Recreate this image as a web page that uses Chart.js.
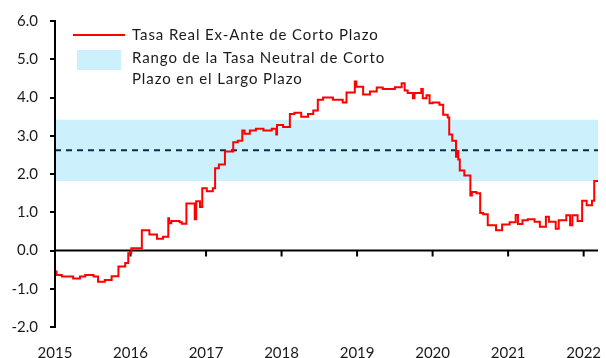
<!DOCTYPE html>
<html lang="es">
<head>
<meta charset="utf-8">
<script src="https://cdn.jsdelivr.net/npm/chart.js@4"></script>
<style>
  html, body { margin: 0; padding: 0; background: #fff; }
  #wrap { width: 606px; height: 358px; }
</style>
</head>
<body>
<div id="wrap"><canvas id="tasaChart" width="606" height="358"></canvas></div>
<script>
// Fechas (año decimal) en que cambia la tasa real ex-ante
const fechas = [
  2015.00, 2015.02, 2015.09, 2015.24, 2015.33, 2015.40, 2015.51, 2015.57, 2015.66, 2015.75,
  2015.84, 2015.93, 2015.97, 2016.01, 2016.15, 2016.25, 2016.35, 2016.43, 2016.50, 2016.51,
  2016.54, 2016.65, 2016.68, 2016.74, 2016.85, 2016.87, 2016.92, 2016.95, 2017.01, 2017.09,
  2017.12, 2017.17, 2017.25, 2017.36, 2017.42, 2017.48, 2017.51, 2017.58, 2017.66, 2017.76,
  2017.87, 2017.93, 2017.94, 2018.02, 2018.11, 2018.17, 2018.26, 2018.35, 2018.42, 2018.48,
  2018.55, 2018.68, 2018.81, 2018.86, 2018.97, 2018.99, 2019.08, 2019.17, 2019.26, 2019.34,
  2019.50, 2019.59, 2019.63, 2019.67, 2019.74, 2019.76, 2019.85, 2019.87, 2019.92, 2019.96,
  2020.00, 2020.09, 2020.14, 2020.20, 2020.22, 2020.26, 2020.31, 2020.33, 2020.34, 2020.36,
  2020.42, 2020.50, 2020.52, 2020.58, 2020.63, 2020.67, 2020.73, 2020.84, 2020.92, 2021.02,
  2021.10, 2021.13, 2021.19, 2021.26, 2021.35, 2021.42, 2021.50, 2021.54, 2021.63, 2021.67,
  2021.77, 2021.82, 2021.85, 2021.92, 2021.98, 2022.04, 2022.11, 2022.14, 2022.19
];

// Tasa real ex-ante de corto plazo (%)
const tasaReal = [
  -0.55, -0.64, -0.68, -0.73, -0.68, -0.64, -0.68, -0.82, -0.77, -0.67,
  -0.42, -0.33, -0.07, 0.06, 0.53, 0.42, 0.31, 0.36, 0.84, 0.71,
  0.77, 0.74, 0.70, 1.23, 0.82, 1.29, 1.14, 1.63, 1.55, 1.63,
  2.15, 2.25, 2.59, 2.83, 2.87, 3.14, 3.05, 3.14, 3.18, 3.14,
  3.18, 3.03, 3.28, 3.23, 3.57, 3.60, 3.50, 3.57, 3.66, 3.94,
  4.00, 3.94, 3.87, 4.13, 4.42, 4.28, 4.08, 4.16, 4.26, 4.22,
  4.27, 4.37, 4.18, 4.12, 3.98, 4.12, 4.22, 3.98, 4.06, 3.85,
  3.87, 3.81, 3.55, 3.48, 3.03, 2.87, 2.45, 2.60, 2.38, 2.09,
  1.96, 1.44, 1.53, 1.50, 0.98, 0.95, 0.66, 0.53, 0.68, 0.74,
  0.93, 0.69, 0.79, 0.82, 0.75, 0.62, 0.88, 0.75, 0.57, 0.79,
  0.92, 0.66, 0.92, 0.77, 1.30, 1.18, 1.30, 1.82, 1.82
];

// Rango de la tasa neutral (mínimo, máximo) y su punto medio
const rangoNeutral = [1.82, 3.42];
const tasaNeutral = [2.62];

const anios = [2015, 2016, 2017, 2018, 2019, 2020, 2021, 2022];
const yTicks = [-2, -1, 0, 1, 2, 3, 4, 5, 6];

const xMin = fechas[0];
const xMax = fechas[fechas.length - 1];

const etiquetas = [
  "Tasa Real Ex-Ante de Corto Plazo",
  "Rango de la Tasa Neutral de Corto",
  "Plazo en el Largo Plazo"
];

Chart.defaults.font.family = "Lato, 'DejaVu Sans', sans-serif";
Chart.defaults.font.size = 15;
Chart.defaults.color = "#1a1a1a";

// Línea del cero con marcas de cada año
const lineaCero = {
  id: "lineaCero",
  beforeDatasetsDraw(chart) {
    const { ctx, chartArea, scales } = chart;
    const y0 = scales.y.getPixelForValue(0);
    ctx.save();
    ctx.strokeStyle = "#000";
    ctx.lineWidth = 2;
    ctx.beginPath();
    ctx.moveTo(chartArea.left, y0);
    ctx.lineTo(chartArea.right, y0);
    scales.x.ticks.forEach((t) => {
      const px = scales.x.getPixelForValue(t.value);
      ctx.moveTo(px, y0);
      ctx.lineTo(px, y0 + 6);
    });
    ctx.stroke();
    ctx.restore();
  }
};

// Eje vertical y leyenda, dibujados encima de la banda
const leyenda = {
  id: "leyenda",
  afterDraw(chart) {
    const { ctx, scales } = chart;
    const ds = chart.data.datasets;
    const xEje = scales.x.getPixelForValue(xMin);
    ctx.save();
    ctx.strokeStyle = "#000";
    ctx.lineWidth = 2;
    ctx.beginPath();
    ctx.moveTo(xEje, scales.y.getPixelForValue(yTicks[yTicks.length - 1]));
    ctx.lineTo(xEje, scales.y.getPixelForValue(yTicks[0]));
    ctx.stroke();

    ctx.strokeStyle = ds[0].borderColor;
    ctx.beginPath();
    ctx.moveTo(73, 35);
    ctx.lineTo(125, 35);
    ctx.stroke();
    ctx.fillStyle = ds[2].backgroundColor;
    ctx.fillRect(77, 50, 44, 20);
    ctx.fillStyle = "#1a1a1a";
    ctx.font = "15px " + Chart.defaults.font.family;
    ctx.letterSpacing = "0.9px";
    ctx.textBaseline = "middle";
    ctx.fillText(etiquetas[0], 132, 35);
    ctx.fillText(etiquetas[1], 132, 58);
    ctx.fillText(etiquetas[2], 132, 79);
    ctx.restore();
  }
};

new Chart(document.getElementById("tasaChart"), {
  type: "line",
  data: {
    datasets: [
      {
        label: etiquetas[0],
        data: fechas.map((x, i) => ({ x: x, y: tasaReal[i] })),
        borderColor: "#ff0000",
        borderWidth: 2,
        stepped: true,
        pointRadius: 0,
        fill: false
      },
      {
        label: "Tasa neutral",
        data: [{ x: xMin, y: tasaNeutral[0] }, { x: xMax, y: tasaNeutral[0] }],
        borderColor: "#102a4c",
        borderWidth: 2,
        borderDash: [6, 5],
        pointRadius: 0,
        fill: false
      },
      {
        label: "Rango máximo",
        data: [{ x: xMin, y: rangoNeutral[1] }, { x: xMax, y: rangoNeutral[1] }],
        borderWidth: 0,
        borderColor: "rgba(0,0,0,0)",
        backgroundColor: "#ccf0fc",
        pointRadius: 0,
        fill: "+1"
      },
      {
        label: "Rango mínimo",
        data: [{ x: xMin, y: rangoNeutral[0] }, { x: xMax, y: rangoNeutral[0] }],
        borderWidth: 0,
        borderColor: "rgba(0,0,0,0)",
        pointRadius: 0,
        fill: false
      }
    ]
  },
  options: {
    responsive: false,
    animation: false,
    layout: { padding: { top: 20, right: 8, left: 0, bottom: 0 } },
    plugins: {
      legend: { display: false },
      tooltip: { enabled: false }
    },
    scales: {
      x: {
        type: "linear",
        min: xMin,
        max: xMax,
        border: { display: false },
        grid: { display: false, drawTicks: false },
        afterBuildTicks: (scale) => {
          scale.ticks = anios.map((v) => ({ value: v }));
        },
        afterFit: (scale) => {
          scale.height = 31;
          scale.paddingLeft = 0;
          scale.paddingRight = 0;
        },
        ticks: {
          autoSkip: false,
          maxRotation: 0,
          padding: 17,
          callback: (v) => String(v)
        }
      },
      y: {
        min: yTicks[0],
        max: yTicks[yTicks.length - 1],
        border: { display: true, color: "#000", width: 2 },
        grid: {
          drawOnChartArea: false,
          drawTicks: true,
          tickLength: 5,
          color: "#000",
          lineWidth: 2
        },
        afterBuildTicks: (scale) => {
          scale.ticks = yTicks.map((v) => ({ value: v }));
        },
        afterFit: (scale) => {
          scale.width = 55;
        },
        ticks: {
          padding: 12,
          callback: (v) => v.toFixed(1)
        }
      }
    }
  },
  plugins: [lineaCero, leyenda]
});
</script>
</body>
</html>
